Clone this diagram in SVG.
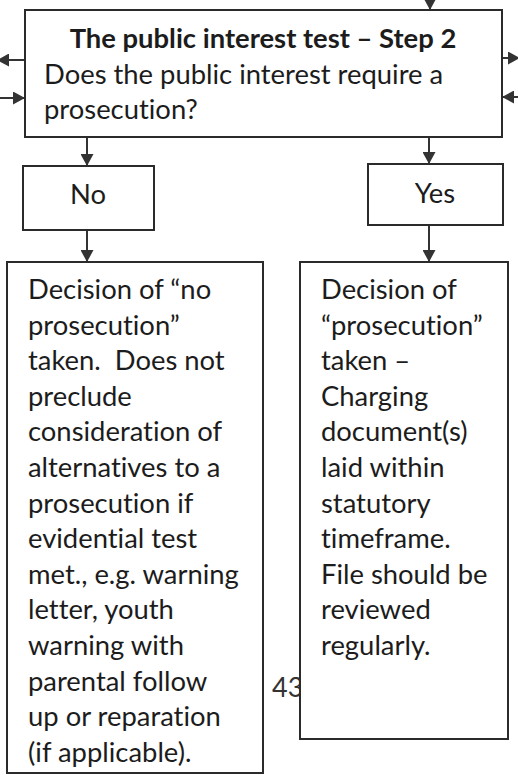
<svg xmlns="http://www.w3.org/2000/svg" width="518" height="775" viewBox="0 0 518 775">
<style>
.box{fill:#fff;stroke:#2b2b2b;stroke-width:2}
.t{font-family:Lato,"Liberation Sans",sans-serif;font-size:27.4px;fill:#1c1c1c;font-variant-ligatures:none}
.b{font-weight:bold}
.c{stroke:#333;stroke-width:2;fill:none;marker-end:url(#ah)}
.pg{font-family:Lato,"Liberation Sans",sans-serif;font-size:27px;fill:#333}
</style>
<defs>
<marker id="ah" markerWidth="12" markerHeight="13" refX="12" refY="6.5" orient="auto" markerUnits="userSpaceOnUse">
<path d="M0,0 L12,6.5 L0,13 z" fill="#333"/>
</marker>
</defs>
<rect width="518" height="775" fill="#fff"/>
<g id="connectors">
<path class="c" d="M430,-12 L430,10"/>
<path class="c" d="M25,60 L-3,60"/>
<path class="c" d="M0,98 L25,98"/>
<path class="c" d="M502,58 L520,58"/>
<path class="c" d="M518,97 L502,97"/>
<path class="c" d="M87,137 L87,166"/>
<path class="c" d="M87,230 L87,262"/>
<path class="c" d="M429,137 L429,164"/>
<path class="c" d="M429,225 L429,262"/>
</g>
<g id="step2">
<rect class="box" x="25" y="10" width="477" height="127"/>
<text class="t b" x="263" y="48" text-anchor="middle">The public interest test – Step 2</text>
<text class="t" x="44" y="83.5">Does the public interest require a</text>
<text class="t" x="44" y="119">prosecution?</text>
</g>
<g id="no">
<rect class="box" x="23" y="166" width="131" height="64"/>
<text class="t" x="88" y="204" text-anchor="middle">No</text>
</g>
<g id="yes">
<rect class="box" x="368" y="164" width="135" height="61"/>
<text class="t" x="435" y="203" text-anchor="middle">Yes</text>
</g>
<g id="no-prosecution">
<rect class="box" x="7" y="262" width="256" height="511"/>
<text class="t" x="28" y="299">
<tspan x="28" y="299">Decision of “no</tspan>
<tspan x="28" y="334.6">prosecution”</tspan>
<tspan x="28" y="370.2">taken.&#160; Does not</tspan>
<tspan x="28" y="405.8">preclude</tspan>
<tspan x="28" y="441.4">consideration of</tspan>
<tspan x="28" y="477">alternatives to a</tspan>
<tspan x="28" y="512.6">prosecution if</tspan>
<tspan x="28" y="548.2">evidential test</tspan>
<tspan x="28" y="583.8">met., e.g. warning</tspan>
<tspan x="28" y="619.4">letter, youth</tspan>
<tspan x="28" y="655">warning with</tspan>
<tspan x="28" y="690.6">parental follow</tspan>
<tspan x="28" y="726.2">up or reparation</tspan>
<tspan x="28" y="761.8">(if applicable).</tspan>
</text>
</g>
<g id="page-number">
<text class="pg" x="272" y="697">43</text>
</g>
<g id="prosecution">
<rect class="box" x="300" y="262" width="208" height="477"/>
<text class="t" x="321" y="299">
<tspan x="321" y="299">Decision of</tspan>
<tspan x="321" y="334.6">“prosecution”</tspan>
<tspan x="321" y="370.2">taken –</tspan>
<tspan x="321" y="405.8">Charging</tspan>
<tspan x="321" y="441.4">document(s)</tspan>
<tspan x="321" y="477">laid within</tspan>
<tspan x="321" y="512.6">statutory</tspan>
<tspan x="321" y="548.2">timeframe.</tspan>
<tspan x="321" y="583.8">File should be</tspan>
<tspan x="321" y="619.4">reviewed</tspan>
<tspan x="321" y="655">regularly.</tspan>
</text>
</g>
</svg>
